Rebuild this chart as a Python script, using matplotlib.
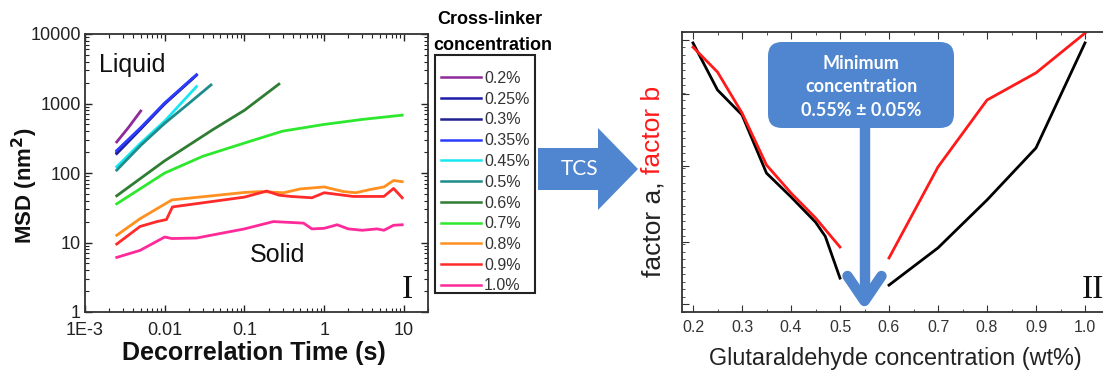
import numpy as np
import matplotlib
matplotlib.use("Agg")
import matplotlib.pyplot as plt
from matplotlib.patches import FancyArrow, FancyBboxPatch, Rectangle
from matplotlib.lines import Line2D
from matplotlib.transforms import Affine2D
from matplotlib.ticker import LogLocator, NullFormatter, FixedLocator, MultipleLocator

plt.rcParams['font.family'] = ['Liberation Sans', 'DejaVu Sans']

# --------- panel I : MSD vs decorrelation time ---------
labels = ['0.2%', '0.25%', '0.3%', '0.35%', '0.45%', '0.5%', '0.6%', '0.7%', '0.8%', '0.9%', '1.0%']
colors = ['#8e2a9c', '#1c1ca8', '#202090', '#2b3cff', '#19e6f0', '#1f8c8c',
          '#2e7d32', '#2ee82e', '#ff9020', '#ff2a2a', '#ff2a9a']

t_02 = [0.0025, 0.0035, 0.005]
msd_02 = [280, 450, 780]
t_025 = [0.0025, 0.005, 0.01, 0.025]
msd_025 = [190, 430, 1000, 2550]
t_03 = [0.0025, 0.005, 0.01, 0.022]
msd_03 = [200, 440, 990, 2250]
t_035 = [0.0025, 0.005, 0.01, 0.025]
msd_035 = [210, 450, 1020, 2600]
t_045 = [0.0025, 0.005, 0.01, 0.025]
msd_045 = [123, 270, 560, 1750]
t_05 = [0.0025, 0.005, 0.01, 0.02, 0.038]
msd_05 = [110, 250, 520, 1000, 1850]
t_06 = [0.0025, 0.01, 0.04, 0.1, 0.27]
msd_06 = [47, 150, 420, 800, 1900]
t_07 = [0.0025, 0.01, 0.03, 0.1, 0.3, 1, 3, 9.5]
msd_07 = [36, 100, 174, 270, 400, 500, 590, 680]
t_08 = [0.0025, 0.0049, 0.0123, 0.1, 0.157, 0.31, 0.5, 1, 1.75, 2.5, 3.8, 5.6, 7.4, 9.5]
msd_08 = [12.7, 22, 41, 52.5, 54, 52, 59, 63, 54, 52, 58, 63, 78, 75]
t_09 = [0.0025, 0.0049, 0.008, 0.0105, 0.0125, 0.1, 0.19, 0.27, 0.38, 0.7, 1, 2.3, 5.6, 7.4, 9.5]
msd_09 = [9.5, 17, 20, 21.4, 32.5, 45, 55, 48, 46, 44, 52, 46, 46, 60, 44]
t_10 = [0.0025, 0.0049, 0.01, 0.0123, 0.025, 0.1, 0.23, 0.55, 0.7, 1, 1.45, 2.0, 3.0, 4.6, 5.6, 7.4, 9.5]
msd_10 = [6.1, 7.7, 12, 11.4, 11.6, 15.7, 20, 19, 15.7, 16, 18, 15.7, 15, 15.7, 15, 17.7, 18]

series_t = [t_02, t_025, t_03, t_035, t_045, t_05, t_06, t_07, t_08, t_09, t_10]
series_msd = [msd_02, msd_025, msd_03, msd_035, msd_045, msd_05, msd_06, msd_07, msd_08, msd_09, msd_10]

# --------- panel II : factors vs glutaraldehyde concentration ---------
conc_low = [0.2, 0.25, 0.3, 0.35, 0.4, 0.45, 0.47, 0.5]
factor_a_low = [0.961, 0.793, 0.704, 0.496, 0.411, 0.321, 0.27, 0.121]
conc_high = [0.6, 0.7, 0.8, 0.9, 1.0]
factor_a_high = [0.096, 0.229, 0.4, 0.586, 0.961]
conc_low_b = [0.2, 0.25, 0.3, 0.35, 0.4, 0.45, 0.5]
factor_b_low = [0.946, 0.857, 0.711, 0.525, 0.425, 0.336, 0.232]
factor_b_high = [0.193, 0.518, 0.757, 0.854, 0.996]
min_conc = 0.55

W, H = 1103, 374
fig = plt.figure(figsize=(W / 100, H / 100), dpi=100)
# pixel coords measured from the top-left corner of the picture
pix = Affine2D().scale(1, -1).translate(0, H)

def fx(px):
    return px / W

def fy(py):
    return 1 - py / H

# ---- panel I
ax1 = fig.add_axes([fx(85), fy(312), fx(428 - 85), (312 - 34) / H])
for t, m, c, lab in zip(series_t, series_msd, colors, labels):
    ax1.plot(t, m, color=c, lw=2.0, label=lab)
ax1.set_xscale('log')
ax1.set_yscale('log')
ax1.set_xlim(1e-3, 20)
ax1.set_ylim(1, 10000)
ax1.set_xticks([1e-3, 1e-2, 1e-1, 1, 10])
ax1.set_xticklabels(['1E-3', '0.01', '0.1', '1', '10'])
ax1.set_yticks([1, 10, 100, 1000, 10000])
ax1.set_yticklabels(['1', '10', '100', '1000', '10000'])
for axis in (ax1.xaxis, ax1.yaxis):
    axis.set_minor_locator(LogLocator(base=10, subs=np.arange(2, 10), numticks=20))
    axis.set_minor_formatter(NullFormatter())
ax1.tick_params(which='both', direction='in', top=True, right=True, labelsize=13, colors='#222222')
ax1.tick_params(which='major', length=5, width=1)
ax1.tick_params(which='minor', length=3, width=0.8)
ax1.tick_params(axis='x', pad=7)
ax1.tick_params(axis='y', pad=3)
for s in ax1.spines.values():
    s.set_linewidth(1.3)
    s.set_color('#333333')
fig.text(254, 353, 'Decorrelation Time (s)', transform=pix, fontsize=18, fontweight='bold',
         ha='center', va='center', color='#111111')
fig.text(25, 186, 'MSD (nm$^\\mathbf{2}$)', transform=pix, fontsize=16, fontweight='bold',
         rotation=90, ha='center', va='center', color='#111111')
ax1.text(0.04, 0.93, 'Liquid', transform=ax1.transAxes, fontsize=18, va='top', ha='left', color='#111111')
ax1.text(0.56, 0.205, 'Solid', transform=ax1.transAxes, fontsize=18, va='center', ha='center', color='#111111')
ax1.text(407, 290, 'I', transform=pix, fontsize=24, va='center', ha='center',
         family=['Liberation Serif', 'DejaVu Serif'], color='#111111')

# legend: entries without frame, box drawn to the reference size
handles, labs = ax1.get_legend_handles_labels()
leg = fig.legend(handles, labs, loc='upper left', bbox_to_anchor=(fx(441), fy(71)),
                 frameon=False, fontsize=11.5, handlelength=2.5,
                 handletextpad=0.2, labelspacing=0.36, borderpad=0, borderaxespad=0)
for line in leg.get_lines():
    line.set_linewidth(1.8)
for txt in leg.get_texts():
    txt.set_color('#333333')
fig.add_artist(Rectangle((435, 55), 100, 238, transform=pix, fill=False,
                         edgecolor='#222222', lw=1.5))
fig.text(fx(437), fy(20), 'Cross-linker', fontsize=13, fontweight='bold', va='center', ha='left')
fig.text(fx(433), fy(45), 'concentration', fontsize=13, fontweight='bold', va='center', ha='left')

# ---- TCS arrow
blue = '#4f86cf'
fig.add_artist(FancyArrow(538, 169, 100, 0, width=42, head_width=82, head_length=40,
                          length_includes_head=True, transform=pix, color=blue, lw=0))
fig.text(580, 169, 'TCS', transform=pix, fontsize=15, color='white', ha='center', va='center',
         family=['Lato', 'DejaVu Sans'])

# ---- panel II
x0 = 0.2 - 11 / 490
x1 = 0.2 + (1115 - 693) / 490
ax2 = fig.add_axes([fx(682), fy(312), fx(1115 - 682), 280 / H])
ax2.plot(conc_low, factor_a_low, color='black', lw=2)
ax2.plot(conc_high, factor_a_high, color='black', lw=2)
ax2.plot(conc_low_b, factor_b_low, color='#ff1a1a', lw=2)
ax2.plot(conc_high, factor_b_high, color='#ff1a1a', lw=2)
ax2.set_xlim(x0, x1)
ax2.set_ylim(0, 1)
ax2.set_xticks(np.arange(0.2, 1.01, 0.1))
ax2.set_xticklabels(['0.2', '0.3', '0.4', '0.5', '0.6', '0.7', '0.8', '0.9', '1.0'])
ax2.xaxis.set_minor_locator(MultipleLocator(0.05))
ax2.yaxis.set_major_locator(FixedLocator([0.03, 0.25, 0.52, 0.78, 0.97]))
ax2.yaxis.set_minor_locator(MultipleLocator(0.027))
ax2.set_yticklabels([])
ax2.tick_params(which='both', direction='in', top=True, right=True, labelsize=11.5, colors='#333333')
ax2.tick_params(which='major', length=5)
ax2.tick_params(which='minor', length=2.5)
ax2.tick_params(axis='x', pad=6)
for s in ax2.spines.values():
    s.set_linewidth(1.3)
    s.set_color('#333333')
fig.text(895, 358, 'Glutaraldehyde concentration (wt%)', transform=pix, fontsize=16.8,
         color='#222222', ha='center', va='center')
fig.text(1093, 290, 'II', transform=pix, fontsize=24, va='center', ha='center',
         family=['Liberation Serif', 'DejaVu Serif'], color='#111111')

# two-coloured y label: "factor a, " in black then "factor b" in red
ta = fig.text(653, 277, 'factor a, ', transform=pix, rotation=90, fontsize=19,
              color='#222222', ha='center', va='bottom')
fig.canvas.draw()
ext = ta.get_window_extent()
fig.text(653, H - ext.y1, 'factor b', transform=pix, rotation=90, fontsize=19,
         color='#ff1a1a', ha='center', va='bottom')

# minimum concentration callout
fig.add_artist(FancyBboxPatch((768, 42), 186, 86, boxstyle='round,pad=0,rounding_size=14',
                              transform=pix, facecolor=blue, edgecolor='none'))
fig.text(861, 87, 'Minimum\nconcentration\n0.55% ± 0.05%', transform=pix, fontsize=13,
         fontweight='bold', color='white', ha='center', va='center', linespacing=1.45,
         family=['Lato', 'DejaVu Sans'])
# arrow down to the minimum concentration on the x axis
xa = ax2.transData.transform((min_conc, 0))[0]
fig.add_artist(Line2D([xa, xa], [127, 298], transform=pix, color=blue, lw=7.5,
                      solid_capstyle='butt'))
fig.add_artist(Line2D([xa - 17, xa, xa + 17], [276, 301, 276], transform=pix, color=blue,
                      lw=7.5, solid_capstyle='round', solid_joinstyle='round'))

fig.savefig('out.png', dpi=100)
